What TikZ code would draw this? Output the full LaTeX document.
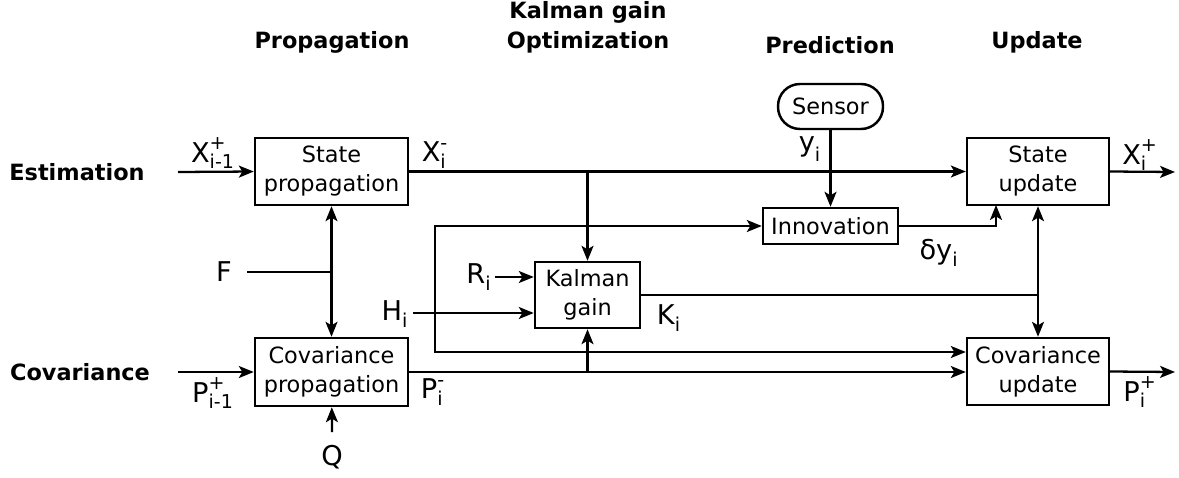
\documentclass[tikz,border=0pt]{standalone}
\usepackage{amsmath}
\usepackage{fontspec}
\setmainfont{DejaVu Sans}
\usetikzlibrary{arrows.meta}
% signal name with sub- and superscript
\newcommand{\sig}[3]{$\text{#1}^{\text{#3}}_{\text{#2}}$}

\tikzset{
  block/.style={draw, line width=1.4pt, inner sep=0pt, align=center,
    font=\fontsize{12.75}{16.5}\selectfont},
  lbl/.style={inner sep=1pt, font=\fontsize{15.5}{18}\selectfont},
  hdr/.style={inner sep=0pt, align=center, font=\fontsize{12.75}{16.9}\selectfont\bfseries},
  wire/.style={line width=1.3pt},
}

\begin{document}
\begin{tikzpicture}[x=0.02cm,y=-0.02cm,>={Stealth[length=8.5pt,width=6.8pt,inset=2pt]}]
\useasboundingbox (0,0) rectangle (1179,477);

% column and row titles
\node[hdr] (hprop) at (332,42) {Propagation};
\node[hdr] (hgain) at (588,27) {Kalman gain\\Optimization};
\node[hdr] (hpred) at (830,45) {Prediction};
\node[hdr] (hupd) at (1037,42) {Update};
\node[hdr] (hest) at (77,172) {Estimation};
\node[hdr] (hcov) at (80,372) {Covariance};

% blocks
\node[block, minimum width=3.06cm, minimum height=1.34cm] (statep) at (331.5,171.5) {State\\propagation};
\node[block, minimum width=3.06cm, minimum height=1.36cm] (covp) at (331.5,372) {Covariance\\propagation};
\node[block, minimum width=2.1cm, minimum height=1.32cm] (kgain) at (587.5,295) {Kalman\\gain};
\node[block, minimum width=2.7cm, minimum height=0.72cm] (innov) at (830.5,226) {Innovation};
\node[block, minimum width=2.1cm, minimum height=0.9cm, rounded corners=12.5pt] (sensor) at (830.5,106.5) {Sensor};
\node[block, minimum width=2.84cm, minimum height=1.34cm] (stateu) at (1038,171.5) {State\\update};
\node[block, minimum width=2.84cm, minimum height=1.34cm] (covu) at (1038,371.5) {Covariance\\update};

% signal labels
\node[lbl] (lxin) at (213,153) {\sig{X}{i-1}{+}};
\node[lbl] (lpin) at (213,393) {\sig{P}{i-1}{+}};
\node[lbl] (lf) at (224,272) {F};
\node[lbl] (lq) at (332,457) {Q};
\node[lbl] (lh) at (395,314) {\sig{H}{i}{}};
\node[lbl] (lr) at (479,277) {\sig{R}{i}{}};
\node[lbl] (lxm) at (435,155) {\sig{X}{i}{-}};
\node[lbl] (lpm) at (433,392) {\sig{P}{i}{-}};
\node[lbl] (lk) at (669,318) {\sig{K}{i}{}};
\node[lbl] (ly) at (810,149) {\sig{y}{i}{}};
\node[lbl] (ldy) at (939,253) {\sig{δy}{i}{}};
\node[lbl] (lxp) at (1140,155) {\sig{X}{i}{+}};
\node[lbl] (lpp) at (1140,392) {\sig{P}{i}{+}};

% free ends
\coordinate (xs) at (178,172);
\coordinate (ps) at (178,372);
\coordinate (xo) at (1175,172);
\coordinate (po) at (1175,372);
\coordinate (fs) at (247,272);
\coordinate (qs) at (332,432);
\coordinate (rs) at (495,277);
\coordinate (hs) at (413,313);
\coordinate (lb) at (435,352);
\coordinate (du) at (996,205);

% connectors
\draw[wire,->] (xs) -- (statep.west);
\draw[wire,->] (ps) -- (covp.west);
\draw[wire,<->] (statep) -- (covp);
\draw[wire] (fs) -- (fs -| statep);
\draw[wire,->] (qs) -- (covp);
\draw[wire,->] (statep.east) -- (stateu.west);
\draw[wire,->] (statep.east -| kgain) -- (kgain.north);
\draw[wire,->] (covp.east) -- (covp.east -| covu.west);
\draw[wire,->] (covp.east -| kgain) -- (kgain.south);
\draw[wire,->] (rs) -- (rs -| kgain.west);
\draw[wire,->] (hs) -- (hs -| kgain.west);
\draw[wire,<->] (innov.west) -- (innov.west -| lb) -- (lb) -- (lb -| covu.west);
\draw[wire,->] (sensor) -- (innov);
\draw[wire,->] (innov.east) -| (du);
\draw[wire,<->] (stateu) -- (covu);
\draw[wire] (kgain.east) -- (kgain.east -| stateu.south);
\draw[wire,->] (stateu.east) -- (xo);
\draw[wire,->] (covu.east) -- (po);
\end{tikzpicture}
\end{document}
